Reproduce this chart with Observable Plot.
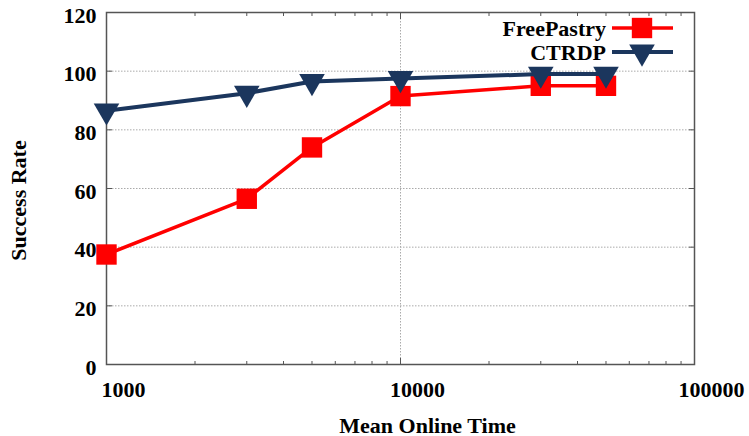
<!DOCTYPE html>
<html>
<head>
<meta charset="utf-8">
<script src="https://cdn.jsdelivr.net/npm/d3@7"></script>
<script src="https://cdn.jsdelivr.net/npm/@observablehq/plot@0.6"></script>
<style>
  html, body { margin: 0; padding: 0; background: #fff; }
</style>
</head>
<body>
<div id="chart"></div>
<script>
// ---- data ----
const onlineTime = [1000, 3000, 5000, 10000, 30000, 50000];
const freePastry = [37.5, 56.5, 74, 91.5, 95, 95];
const ctrdp = [86.5, 92.5, 96.5, 97.5, 99, 99];
const seriesNames = ["FreePastry", "CTRDP"];
const seriesColors = ["#ff0000", "#1b365d"];
const xTicks = [1000, 10000, 100000];
const xMinorTicks = [2000, 3000, 4000, 5000, 6000, 7000, 8000, 9000, 20000, 30000, 40000, 50000, 60000, 70000, 80000, 90000];
const yTicks = [0, 20, 40, 60, 80, 100, 120];
const yGrid = [20, 40, 60, 80, 100];
const xGrid = [10000];
const xLabel = "Mean Online Time";
const yLabel = "Success Rate";

const fp = onlineTime.map((t, i) => ({t, v: freePastry[i]}));
const ct = onlineTime.map((t, i) => ({t, v: ctrdp[i]}));

const font = "'Liberation Serif', 'Times New Roman', serif";
const fs = 22;

const chart = Plot.plot({
  width: 749,
  height: 436,
  marginLeft: 106,
  marginRight: 55,
  marginTop: 12,
  marginBottom: 72,
  style: {fontFamily: font, background: "#fff", overflow: "visible"},
  x: {type: "log", domain: [1000, 100000]},
  y: {domain: [0, 120]},
  marks: [
    Plot.ruleY(yGrid, {stroke: "#aaa", strokeWidth: 1, strokeDasharray: "1.5,1.5"}),
    Plot.ruleX(xGrid, {stroke: "#aaa", strokeWidth: 1, strokeDasharray: "1.5,1.5"}),
    // tick labels
    Plot.axisY({ticks: yTicks, tickSize: 0, tickPadding: 10, fontSize: fs, fontWeight: "bold", dy: 3, label: null, fill: "#000"}),
    Plot.axisX({ticks: xTicks, tickSize: 0, tickPadding: 17, fontSize: fs, fontWeight: "bold", dx: 17, tickFormat: d => String(d), label: null, fill: "#000"}),
    // inward ticks
    Plot.axisY({ticks: yTicks, anchor: "left", tickSize: -6, text: null, label: null, stroke: "#555"}),
    Plot.axisY({ticks: yTicks, anchor: "right", tickSize: -6, text: null, label: null, stroke: "#555"}),
    Plot.axisX({ticks: xTicks, anchor: "bottom", tickSize: -6, text: null, label: null, stroke: "#555"}),
    Plot.axisX({ticks: xTicks, anchor: "top", tickSize: -6, text: null, label: null, stroke: "#555"}),
    Plot.axisX({ticks: xMinorTicks, anchor: "bottom", tickSize: -3, text: null, label: null, stroke: "#555"}),
    Plot.axisX({ticks: xMinorTicks, anchor: "top", tickSize: -3, text: null, label: null, stroke: "#555"}),
    Plot.frame({stroke: "#555", strokeWidth: 1.5}),
    // series
    Plot.line(fp, {x: "t", y: "v", stroke: seriesColors[0], strokeWidth: 3.5}),
    Plot.dot(fp, {x: "t", y: "v", symbol: "square", r: 11.5, fill: seriesColors[0], stroke: "none"}),
    Plot.line(ct, {x: "t", y: "v", stroke: seriesColors[1], strokeWidth: 4}),
    Plot.dot(ct, {x: "t", y: "v", symbol: "triangle", rotate: 180, r: 9.5, fill: seriesColors[1], stroke: "none"}),
    // axis labels
    Plot.text([yLabel], {frameAnchor: "left", text: d => d, rotate: -90, textAnchor: "middle", lineAnchor: "middle", dx: -88, dy: 12, fontSize: fs, fontWeight: "bold", fill: "#000"}),
    Plot.text([xLabel], {frameAnchor: "bottom", text: d => d, textAnchor: "middle", lineAnchor: "middle", dx: 27, dy: 61, fontSize: fs, fontWeight: "bold", fill: "#000"})
  ]
});

// legend (inside top-right of the frame)
const svg = d3.select(chart);
const frameRight = 749 - 55;
const legend = svg.append("g").attr("font-family", font);
const symSquare = d3.symbol(d3.symbolSquare, Math.PI * 11.5 * 11.5);
const symTri = d3.symbol(d3.symbolTriangle, Math.PI * 9.5 * 9.5);
seriesNames.forEach((name, i) => {
  const cy = 28 + i * 24;
  const lx1 = frameRight - 82, lx2 = frameRight - 21, mx = frameRight - 52;
  legend.append("text")
    .attr("x", lx1 - 6).attr("y", cy).attr("dy", "0.35em")
    .attr("text-anchor", "end").attr("font-size", fs).attr("font-weight", "bold")
    .text(name);
  legend.append("line")
    .attr("x1", lx1).attr("x2", lx2).attr("y1", cy).attr("y2", cy)
    .attr("stroke", seriesColors[i]).attr("stroke-width", i === 0 ? 3.5 : 4);
  legend.append("path")
    .attr("d", i === 0 ? symSquare() : symTri())
    .attr("transform", `translate(${mx},${cy})` + (i === 1 ? " rotate(180)" : ""))
    .attr("fill", seriesColors[i]);
});

document.getElementById("chart").appendChild(chart);
</script>
</body>
</html>
